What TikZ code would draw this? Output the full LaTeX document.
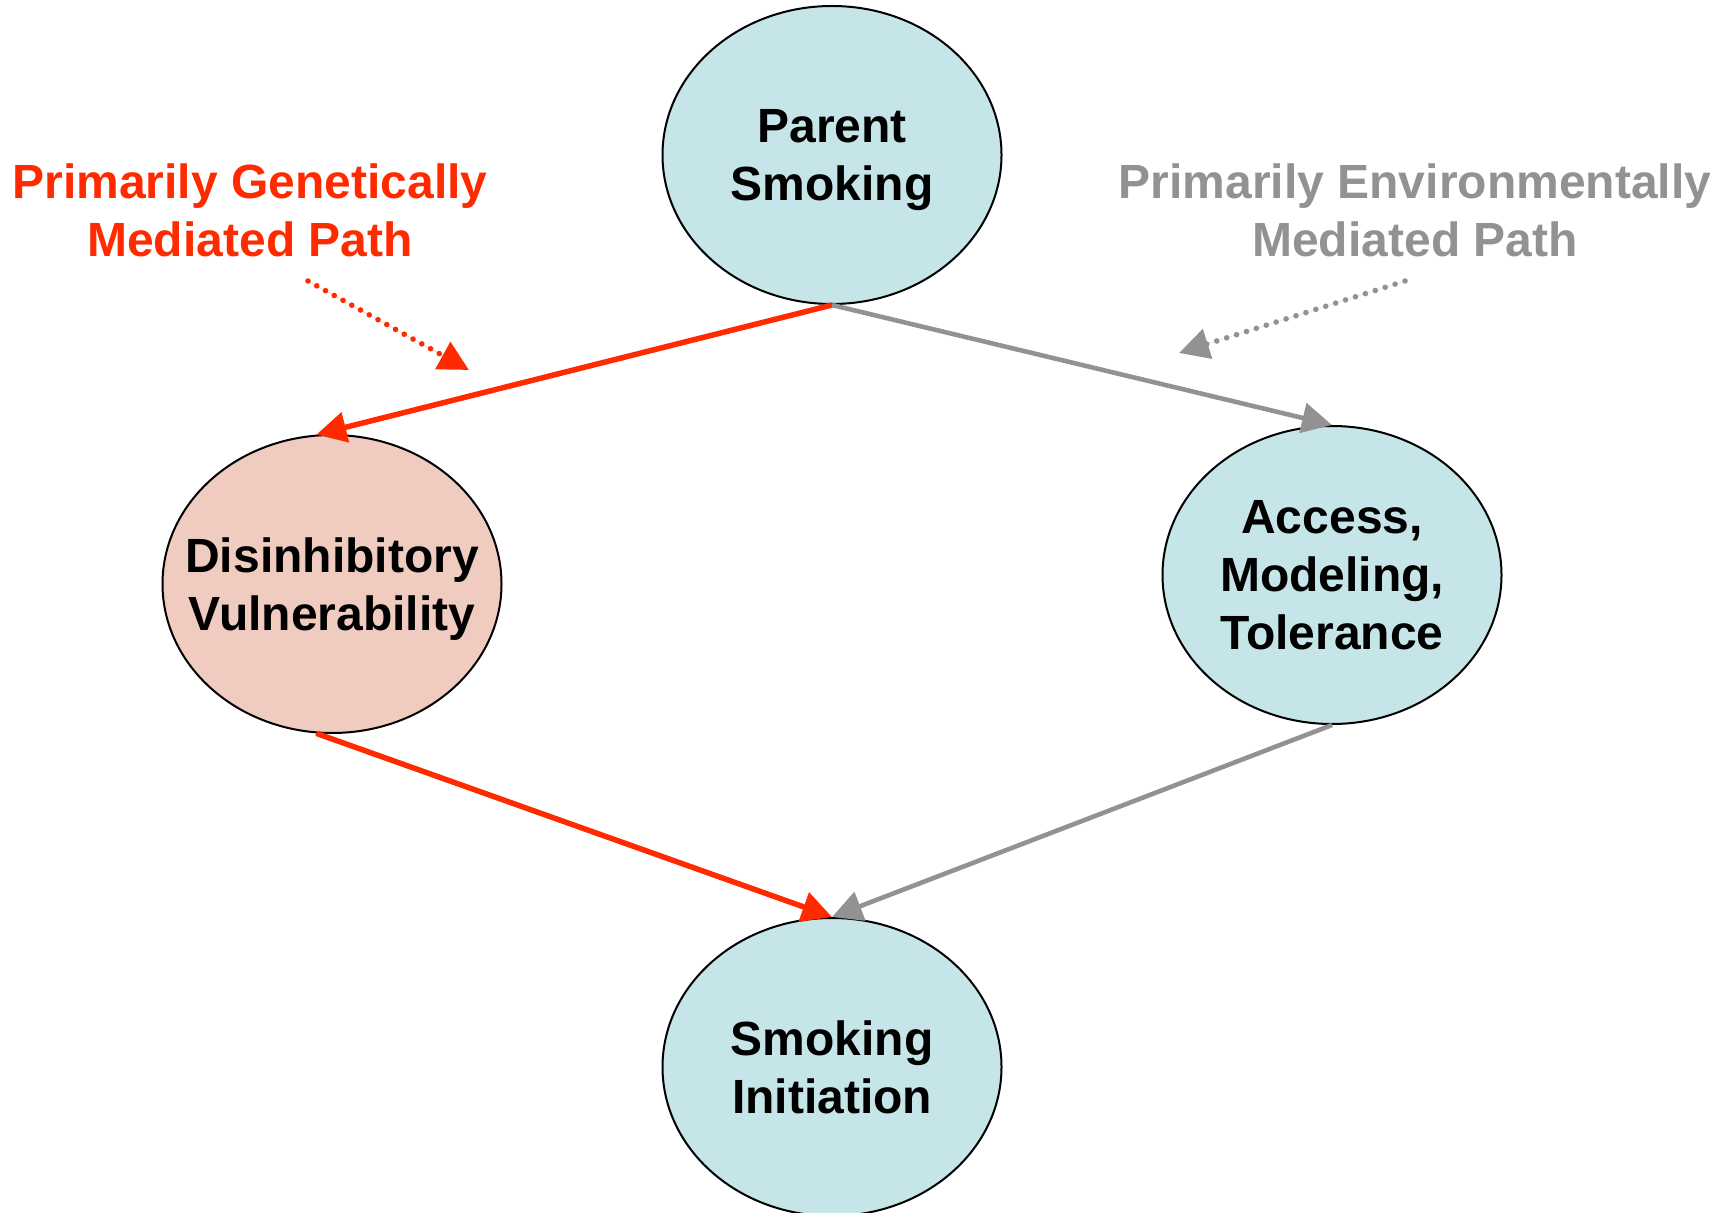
\documentclass[tikz,border=0pt]{standalone}
\usepackage{fontspec}
\setmainfont{Liberation Sans}
\usetikzlibrary{arrows.meta,shapes.geometric}
\definecolor{nodeblue}{HTML}{C6E5E8}
\definecolor{nodepink}{HTML}{F0CBC0}
\definecolor{pathred}{HTML}{FF2A00}
\definecolor{pathgray}{HTML}{929292}
\begin{document}
\begin{tikzpicture}[x=0.5pt,y=-0.5pt,
  oval/.style={ellipse, draw=black, line width=1pt, minimum width=169.5pt, minimum height=149pt,
    inner sep=-20pt, text depth=0pt, align=center, font=\fontsize{24}{28.8}\selectfont\bfseries},
  labeltext/.style={align=center, font=\fontsize{24}{28.8}\selectfont\bfseries, inner sep=0pt, text depth=0pt},
  redpath/.style={draw=pathred, line width=2.75pt, -{Triangle[length=15pt,width=15pt]}, fill=pathred},
  graypath/.style={draw=pathgray, line width=2.3pt, -{Triangle[length=15pt,width=15pt]}, fill=pathgray},
  reddots/.style={draw=pathred, line width=2.8pt, line cap=round, dash pattern=on 0pt off 5pt,
    -{Triangle[length=15pt,width=15pt]}, fill=pathred},
  graydots/.style={draw=pathgray, line width=2.8pt, line cap=round, dash pattern=on 0pt off 5.2pt,
    -{Triangle[length=15pt,width=15pt]}, fill=pathgray},
]
\useasboundingbox (0,0) rectangle (1733,1213);

\node[oval, fill=nodeblue] (ps) at (832,155) {Parent\\Smoking};
\node[oval, fill=nodepink] (dis) at (332,584) {Disinhibitory\\Vulnerability};
\node[oval, fill=nodeblue] (acc) at (1332,575) {Access,\\Modeling,\\Tolerance};
\node[oval, fill=nodeblue] (si) at (832,1067) {Smoking\\Initiation};

\node[labeltext, text=pathred] (glab) at (250,210) {Primarily Genetically\\Mediated Path};
\node[labeltext, text=pathgray] (elab) at (1415,210) {Primarily Environmentally\\Mediated Path};

\coordinate (rdA) at (308,281);
\coordinate (rdB) at (469,370);
\coordinate (gdA) at (1405,281);
\coordinate (gdB) at (1179,353);

\draw[reddots] (rdA) -- (rdB);
\draw[graydots] (gdA) -- (gdB);

\draw[redpath] (ps.south) -- (dis.96);
\draw[graypath] (ps.south) -- (acc.north);
\draw[redpath] (dis.264) -- (si.north);
\draw[graypath] (acc.south) -- (si.north);
\end{tikzpicture}
\end{document}
